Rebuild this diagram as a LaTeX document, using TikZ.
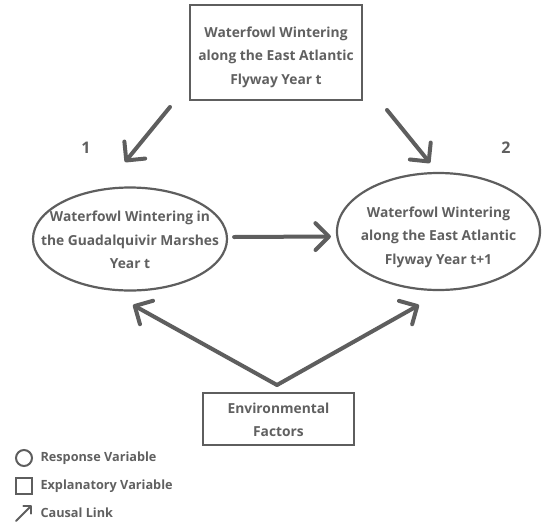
\documentclass[tikz,border=0pt]{standalone}
\usepackage{fontspec}
\setmainfont{Open Sans}
\usetikzlibrary{arrows.meta,shapes.geometric,calc}
\definecolor{linegray}{HTML}{5E5E5E}
\definecolor{textgray}{HTML}{606060}
\tikzset{
  every node/.style={font=\bfseries, text=textgray},
  mainfont/.style={font=\fontsize{13.8}{23.5}\selectfont\bfseries, align=center},
  legfont/.style={font=\fontsize{12.7}{15}\selectfont\bfseries, anchor=west},
  boxnode/.style={draw=linegray, line width=2.8pt, rectangle, inner sep=0pt},
  ellnode/.style={draw=linegray, line width=2.2pt, ellipse, inner sep=0pt},
  causal/.style={draw=linegray, line width=4pt, line cap=round,
    -{Straight Barb[angle=90:19pt, round]}},
  smallcausal/.style={draw=linegray, line width=2pt, line cap=round,
    -{Straight Barb[angle=90:8pt, round]}}
}
\begin{document}
\begin{tikzpicture}[x=1pt,y=-1pt]
\useasboundingbox (0,0) rectangle (545,525);
% top box
\node[boxnode, minimum width=172pt, minimum height=95pt] (T) at (276,52.5) {};
\node[mainfont] (Tt) at (276,57) {Waterfowl Wintering\\along the East Atlantic\\Flyway Year t};
% ellipses
\node[ellnode, minimum width=194pt, minimum height=103pt] (L) at (130,239) {};
\node[mainfont] (Lt) at (130,240) {Waterfowl Wintering in\\the Guadalquivir Marshes\\Year t};
\node[ellnode, minimum width=203pt, minimum height=117pt] (R) at (438.5,231.5) {};
\node[mainfont] (Rt) at (438.5,237) {Waterfowl Wintering\\along the East Atlantic\\Flyway Year t+1};
% bottom box
\node[boxnode, minimum width=151pt, minimum height=52pt] (B) at (278.5,419) {};
\node[mainfont] (Bt) at (278.5,420) {Environmental\\Factors};
% numbers
\node[font=\fontsize{16}{18}\selectfont\bfseries] (n1) at (86,148) {1};
\node[font=\fontsize{16}{18}\selectfont\bfseries] (n2) at (506,148) {2};
% connector ends
\coordinate (a1s) at (170,107);
\coordinate (a1e) at (125,162);
\coordinate (a2s) at (387,110);
\coordinate (a2e) at (430,163);
\coordinate (apex) at (277,385);
\coordinate (a4e) at (133,305);
\coordinate (a5e) at (419,305);
\draw[causal] (a1s) -- (a1e);
\draw[causal] (a2s) -- (a2e);
\draw[causal] ($(L.east)+(6,-2)$) -- ($(R.west)+(-5,5)$);
\draw[causal] (apex) -- (a4e);
\draw[causal] (apex) -- (a5e);
% legend
\node[draw=linegray, line width=2pt, circle, minimum size=16pt, inner sep=0pt] (lc) at (24,458) {};
\node[legfont] (lct) at (37,458) {Response Variable};
\node[draw=linegray, line width=2pt, rectangle, minimum size=16pt, inner sep=0pt] (ls) at (24,486) {};
\node[legfont] (lst) at (37,486) {Explanatory Variable};
\coordinate (lcs) at (16,521);
\coordinate (lce) at (32,505);
\draw[smallcausal] (lcs) -- (lce);
\node[legfont] (llt) at (37,513) {Causal Link};
\end{tikzpicture}
\end{document}
